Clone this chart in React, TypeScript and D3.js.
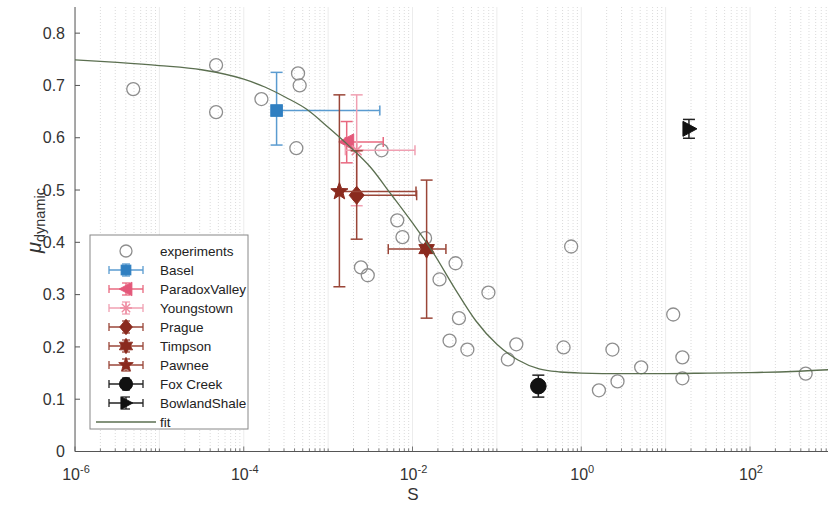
import React from "react";
import * as d3 from "d3";

// ---------- data ----------
const expS = [4.9e-6, 4.7e-5, 4.7e-5, 1.62e-4, 4.4e-4, 4.6e-4, 4.2e-4, 4.3e-3, 6.6e-3, 7.6e-3, 1.41e-2, 3.24e-2, 2.09e-2, 7.94e-2, 3.55e-2, 2.75e-2, 4.47e-2, 0.17, 0.135, 0.617, 0.759, 2.34, 1.62, 2.69, 12.3, 5.13, 15.8, 15.8, 457, 2.45e-3, 2.95e-3];
const expMu = [0.693, 0.739, 0.649, 0.674, 0.723, 0.700, 0.580, 0.576, 0.442, 0.410, 0.408, 0.360, 0.329, 0.304, 0.255, 0.212, 0.195, 0.205, 0.176, 0.199, 0.392, 0.195, 0.117, 0.134, 0.262, 0.161, 0.180, 0.140, 0.149, 0.352, 0.337];

const fitLog10S = [-6, -5.5, -5, -4.5, -4, -3.75, -3.5, -3.25, -3, -2.75, -2.5, -2.25, -2, -1.75, -1.5, -1.25, -1, -0.75, -0.5, -0.25, 0, 0.5, 1, 1.5, 2, 2.5, 3];
const fitMu = [0.749, 0.744, 0.738, 0.730, 0.712, 0.697, 0.677, 0.654, 0.620, 0.584, 0.544, 0.491, 0.437, 0.379, 0.312, 0.250, 0.205, 0.175, 0.158, 0.152, 0.150, 0.149, 0.149, 0.150, 0.151, 0.153, 0.157];

const eventNames = ["Basel", "ParadoxValley", "Youngstown", "Prague", "Timpson", "Pawnee", "Fox Creek", "BowlandShale"];
const eventS = [2.45e-4, 1.66e-3, 2.18e-3, 2.18e-3, 1.47e-2, 1.36e-3, 0.31, 18.9];
const eventMu = [0.652, 0.592, 0.576, 0.490, 0.387, 0.497, 0.125, 0.617];
const eventSLo = [2.3e-4, 1.6e-3, 1.6e-3, 2.0e-3, 5.16e-3, 1.3e-3, null, null];
const eventSHi = [4.1e-3, 4.5e-3, 1.07e-2, 1.12e-2, 2.49e-2, 1.1e-2, null, null];
const eventMuLo = [0.586, 0.552, 0.470, 0.406, 0.255, 0.315, 0.104, 0.599];
const eventMuHi = [0.725, 0.631, 0.682, 0.575, 0.519, 0.682, 0.146, 0.635];
const eventMarker = ["square", "left", "asterisk", "diamond", "hexagram", "pentagram", "circle", "right"];
const eventColor = ["#2f7fc1", "#e4587a", "#ee8aa0", "#8a2a1e", "#8a2a1e", "#8a2a1e", "#111111", "#111111"];
const eventBarColor = ["#5a9bd0", "#e8687f", "#f0a0b2", "#9a4638", "#9a4638", "#9a4638", "#222222", "#222222"];

const yTicks = [0, 0.1, 0.2, 0.3, 0.4, 0.5, 0.6, 0.7, 0.8];
const xTickExps = [-6, -4, -2, 0, 2];

// ---------- layout ----------
const W = 828, H = 509;
const X0 = 75, DEC = 84.375;
const x = d3.scaleLog().domain([1e-6, 1e3]).range([X0, X0 + 9 * DEC]);
const y = d3.scaleLinear().domain([0, 0.85]).range([451.5, 7]);
const FONT = "'Liberation Sans', Arial, Helvetica, sans-serif";

function starPath(n: number, rOut: number, rIn: number) {
  const p = d3.path();
  for (let i = 0; i < 2 * n; i++) {
    const r = i % 2 === 0 ? rOut : rIn;
    const a = -Math.PI / 2 + (i * Math.PI) / n;
    const px = r * Math.cos(a), py = r * Math.sin(a);
    if (i === 0) p.moveTo(px, py); else p.lineTo(px, py);
  }
  p.closePath();
  return p.toString();
}

function Marker({ kind, color, cx, cy, scale = 1 }: any) {
  const t = `translate(${cx},${cy}) scale(${scale})`;
  switch (kind) {
    case "square":
      return <rect transform={t} x={-5.8} y={-5.8} width={11.6} height={11.6} fill={color} stroke={color} />;
    case "left":
      return <path transform={t} d="M-8,0L7,-8L7,8Z" fill={color} stroke={color} strokeLinejoin="round" />;
    case "right":
      return <path transform={t} d="M8,0L-6,-7.5L-6,7.5Z" fill={color} stroke={color} strokeLinejoin="round" />;
    case "diamond":
      return <path transform={t} d="M0,-9L7.5,0L0,9L-7.5,0Z" fill={color} stroke={color} />;
    case "circle":
      return <circle transform={t} r={7.8} fill={color} stroke={color} />;
    case "pentagram":
      return <path transform={t} d={starPath(5, 9, 3.8)} fill={color} stroke={color} strokeLinejoin="round" />;
    case "hexagram":
      return <path transform={t} d={starPath(6, 9, 5.2)} fill={color} stroke={color} strokeLinejoin="round" />;
    case "asterisk": {
      const segs = [0, 45, 90, 135];
      return (
        <g transform={t} stroke={color} strokeWidth={1.6}>
          {segs.map((a) => (
            <line key={a} x1={-7 * Math.cos((a * Math.PI) / 180)} y1={-7 * Math.sin((a * Math.PI) / 180)} x2={7 * Math.cos((a * Math.PI) / 180)} y2={7 * Math.sin((a * Math.PI) / 180)} />
          ))}
        </g>
      );
    }
  }
  return null;
}

export default function App() {
  const minorTicks: number[] = [];
  for (let e = -6; e <= 2; e++) for (let m = 1; m <= 9; m++) minorTicks.push(m * Math.pow(10, e));
  minorTicks.push(1000);

  const fitLine = d3
    .line<number>()
    .x((_, i) => x(Math.pow(10, fitLog10S[i])))
    .y((d) => y(d))
    .curve(d3.curveMonotoneX)(fitMu) as string;

  const CAP = 6;
  const legendX = 90, legendY = 235, legendW = 158, legendH = 194;
  const rowY = (i: number) => 251 + i * 19.0;
  const legendLabels = ["experiments", ...eventNames, "fit"];

  return (
    <div style={{ position: "fixed", left: 0, top: 0 }}>
      <svg width={W} height={H} style={{ display: "block", background: "#fff" }} fontFamily={FONT}>
        <defs>
          <clipPath id="plot">
            <rect x={X0} y={0} width={W - X0} height={452} />
          </clipPath>
        </defs>
        {/* grid */}
        <g clipPath="url(#plot)">
          {minorTicks.map((v, i) => {
            const isMajor = Math.abs(Math.log10(v) - Math.round(Math.log10(v))) < 1e-9;
            return (
              <line key={i} x1={x(v)} x2={x(v)} y1={y(0.85)} y2={y(0)}
                stroke={isMajor ? "#ececec" : "#d2d2d2"} strokeWidth={isMajor ? 1 : 0.8}
                strokeDasharray={isMajor ? undefined : "1 2"} />
            );
          })}
        </g>
        {/* axes */}
        <line x1={X0} x2={W} y1={y(0)} y2={y(0)} stroke="#555" strokeWidth={1} />
        <line x1={X0} x2={X0} y1={y(0.85)} y2={y(0)} stroke="#555" strokeWidth={1} />
        {minorTicks.map((v, i) => {
          const e = Math.log10(v);
          const labeled = Math.abs(e - Math.round(e)) < 1e-9 && xTickExps.includes(Math.round(e));
          return <line key={"mt" + i} x1={x(v)} x2={x(v)} y1={y(0)} y2={y(0) - (labeled ? 5 : 3)} stroke="#555" strokeWidth={0.8} />;
        })}
        {yTicks.map((t) => (
          <g key={"yt" + t}>
            <line x1={X0} x2={X0 + 5} y1={y(t)} y2={y(t)} stroke="#555" strokeWidth={1} />
            <text x={65} y={y(t)} dy="0.36em" textAnchor="end" fontSize={16} fill="#333">{String(t)}</text>
          </g>
        ))}
        {xTickExps.map((e) => (
          <text key={"xt" + e} x={x(Math.pow(10, e)) + 1} y={480} textAnchor="middle" fontSize={16} fill="#333">
            10<tspan fontSize={11} dy={-7}>{String(e)}</tspan>
          </text>
        ))}
        <text x={413} y={500} textAnchor="middle" fontSize={17} fill="#333">S</text>
        <text transform="translate(41,253) rotate(-90)" fontSize={20} fill="#333">
          <tspan fontStyle="italic">μ</tspan>
          <tspan fontSize={14.5} dy={4}>dynamic</tspan>
        </text>

        {/* experiments */}
        <g clipPath="url(#plot)">
          {expS.map((s, i) => (
            <circle key={"e" + i} cx={x(s)} cy={y(expMu[i])} r={6.5} fill="none" stroke="#8e8e8e" strokeWidth={1.3} />
          ))}
        </g>

        {/* events */}
        {eventNames.map((n, i) => {
          const cx = x(eventS[i]), cy = y(eventMu[i]);
          const bc = eventBarColor[i];
          const lo = eventSLo[i], hi = eventSHi[i];
          return (
            <g key={n}>
              <g stroke={bc} strokeWidth={1.5}>
                <line x1={cx} x2={cx} y1={y(eventMuLo[i])} y2={y(eventMuHi[i])} />
                <line x1={cx - CAP} x2={cx + CAP} y1={y(eventMuLo[i])} y2={y(eventMuLo[i])} />
                <line x1={cx - CAP} x2={cx + CAP} y1={y(eventMuHi[i])} y2={y(eventMuHi[i])} />
                {lo != null && hi != null && (
                  <>
                    <line x1={x(lo)} x2={x(hi)} y1={cy} y2={cy} />
                    <line x1={x(lo)} x2={x(lo)} y1={cy - 5} y2={cy + 5} />
                    <line x1={x(hi)} x2={x(hi)} y1={cy - 5} y2={cy + 5} />
                  </>
                )}
              </g>
              <Marker kind={eventMarker[i]} color={eventColor[i]} cx={cx} cy={cy} />
            </g>
          );
        })}

        {/* fit */}
        <g clipPath="url(#plot)">
          <path d={fitLine} fill="none" stroke="#5b6f50" strokeWidth={1.3} />
        </g>

        {/* legend */}
        <rect x={legendX} y={legendY} width={legendW} height={legendH} fill="#fff" stroke="#888" strokeWidth={1} />
        {legendLabels.map((lab, k) => {
          const ly = rowY(k);
          const mx = 126;
          let icon: any = null;
          if (k === 0) {
            icon = <circle cx={mx} cy={ly} r={6} fill="none" stroke="#8e8e8e" strokeWidth={1.3} />;
          } else if (k === legendLabels.length - 1) {
            icon = <line x1={96} x2={156} y1={ly} y2={ly} stroke="#5b6f50" strokeWidth={1.3} />;
          } else {
            const i = k - 1;
            const bc = eventBarColor[i];
            icon = (
              <g>
                <g stroke={bc} strokeWidth={1.3}>
                  <line x1={109} x2={143} y1={ly} y2={ly} />
                  <line x1={109} x2={109} y1={ly - 4} y2={ly + 4} />
                  <line x1={143} x2={143} y1={ly - 4} y2={ly + 4} />
                  <line x1={mx} x2={mx} y1={ly - 6} y2={ly + 6} />
                  <line x1={mx - 4} x2={mx + 4} y1={ly - 6} y2={ly - 6} />
                  <line x1={mx - 4} x2={mx + 4} y1={ly + 6} y2={ly + 6} />
                </g>
                <Marker kind={eventMarker[i]} color={eventColor[i]} cx={mx} cy={ly} scale={0.85} />
              </g>
            );
          }
          return (
            <g key={"lg" + k}>
              {icon}
              <text x={160} y={ly} dy="0.35em" fontSize={13.5} fill="#222">{lab}</text>
            </g>
          );
        })}
      </svg>
    </div>
  );
}
